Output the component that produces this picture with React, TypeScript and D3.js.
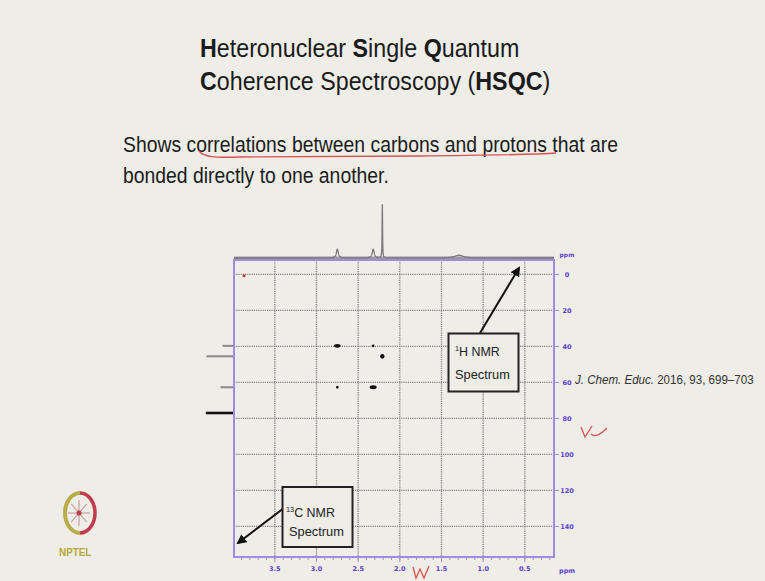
import React from 'react';
import * as d3 from 'd3';

const W = 765;
const H = 581;

// Axis ticks (ppm)
const protonTicks = [3.5, 3.0, 2.5, 2.0, 1.5, 1.0, 0.5];
const carbonTicks = [0, 20, 40, 60, 80, 100, 120, 140];

// HSQC cross peaks: 1H shift, 13C shift, spreads in each dimension
const crossH = [2.75, 2.32, 2.21, 2.75, 2.32];
const crossC = [39.7, 39.7, 45.5, 62.7, 62.7];
const crossSpreadH = [0.04, 0.015, 0.026, 0.015, 0.042];
const crossSpreadC = [1.0, 0.8, 1.3, 0.8, 1.05];

// 1H projection (top trace)
const h1Shift = [2.75, 2.32, 2.21, 1.29];
const h1Height = [0.16, 0.16, 1.0, 0.05];
const h1Width = [0.014, 0.014, 0.003, 0.06];

// 13C projection (left trace)
const c13Shift = [39.7, 45.5, 62.7, 77.0];
const c13Height = [0.38, 0.92, 0.45, 0.94];
const solventShift = 77.0;

// Stray marker near the origin
const markerH = [3.87];
const markerC = [0.8];

const PURPLE = '#a08ae2';
const TICK_TEXT = '#5b3fd2';
const BG = '#eeede8';
const sans = '"Liberation Sans", Arial, sans-serif';

// Text squeezed horizontally by a scale transform
function SlideText({ x, y, sx, size, children, fill = '#1b1b1b', weight = 'normal' }: any) {
  return (
    <text
      transform={`translate(${x},${y}) scale(${sx},1)`}
      fontFamily={sans}
      fontSize={size}
      fontWeight={weight}
      fill={fill}
    >
      {children}
    </text>
  );
}

export default function App() {
  const left = 234, right = 554, top = 260, bottom = 557;
  const x = d3.scaleLinear().domain([3.99, 0.15]).range([left, right]);
  const y = d3.scaleLinear().domain([-8, 157]).range([top, bottom]);

  // top trace intensity -> pixel
  const hInt = d3.scaleLinear().domain([0, 1]).range([258, 203]);
  // left trace intensity -> pixel
  const cInt = d3.scaleLinear().domain([0, 1]).range([left, 204]);

  const samples = d3.range(3.99, 0.15, -0.0015);
  const traceLine = d3
    .line<number>()
    .x((p) => x(p))
    .y((p) => {
      let s = 0;
      h1Shift.forEach((c, i) => {
        const d = (p - c) / h1Width[i];
        s += h1Height[i] / (1 + d * d);
      });
      return hInt(s);
    });

  const minorTicks = d3.range(3.9, 0.15, -0.1);
  const tickFont = '"DejaVu Sans", sans-serif';

  return (
    <svg
      width={W}
      height={H}
      viewBox={`0 0 ${W} ${H}`}
      style={{ position: 'absolute', left: 0, top: 0, background: BG }}
    >
      <defs>
        <marker id="arrowHead" viewBox="0 0 10 10" refX="8" refY="5" markerWidth="5" markerHeight="5" orient="auto-start-reverse">
          <path d="M0,0 L10,5 L0,10 z" fill="#111" />
        </marker>
      </defs>
      <rect x={0} y={0} width={W} height={H} fill={BG} />

      {/* Title */}
      <SlideText x={200} y={57} sx={0.895} size={26}>
        <tspan fontWeight="bold">H</tspan>eteronuclear <tspan fontWeight="bold">S</tspan>ingle <tspan fontWeight="bold">Q</tspan>uantum
      </SlideText>
      <SlideText x={200} y={90} sx={0.895} size={26}>
        <tspan fontWeight="bold">C</tspan>oherence Spectroscopy (<tspan fontWeight="bold">HSQC</tspan>)
      </SlideText>

      {/* Statement */}
      <SlideText x={123} y={152} sx={0.88} size={22}>
        Shows correlations between carbons and protons that are
      </SlideText>
      <SlideText x={123} y={183} sx={0.88} size={22}>
        bonded directly to one another.
      </SlideText>
      <path d="M199,151 C204,157 214,158 240,157 L420,156 C480,155 530,155 556,153" fill="none" stroke="#d9534f" strokeWidth={1.4} />

      {/* 1H projection */}
      <line x1={left} x2={right} y1={258} y2={258} stroke="#9a9a9a" strokeWidth={3} />
      <path d={traceLine(samples) || ''} fill="none" stroke="#7a7a7a" strokeWidth={1.3} />

      {/* 13C projection */}
      {c13Shift.map((c, i) => (
        <line
          key={`c13-${i}`}
          x1={cInt(c13Height[i])}
          x2={left}
          y1={y(c)}
          y2={y(c)}
          stroke={c === solventShift ? '#111' : '#8a8a8a'}
          strokeWidth={c === solventShift ? 2.6 : 2}
        />
      ))}

      {/* Grid */}
      {carbonTicks.map((t) => (
        <line key={`gy-${t}`} x1={left} x2={right} y1={y(t)} y2={y(t)} stroke="#808080" strokeWidth={1.3} strokeDasharray="1.2,1" />
      ))}
      {protonTicks.map((t) => (
        <line key={`gx-${t}`} x1={x(t)} x2={x(t)} y1={top} y2={bottom} stroke="#808080" strokeWidth={1.3} strokeDasharray="1.2,1" />
      ))}

      {/* Frame */}
      <rect x={left} y={top} width={right - left} height={bottom - top} fill="none" stroke={PURPLE} strokeWidth={2} />

      {/* Bottom axis ticks */}
      {minorTicks.map((t, i) => (
        <line key={`mt-${i}`} x1={x(t)} x2={x(t)} y1={bottom} y2={bottom + 3} stroke={PURPLE} strokeWidth={1} />
      ))}
      {protonTicks.map((t) => (
        <g key={`xt-${t}`}>
          <line x1={x(t)} x2={x(t)} y1={bottom} y2={bottom + 5} stroke={PURPLE} strokeWidth={1} />
          <text x={x(t)} y={bottom + 14} textAnchor="middle" fontFamily={tickFont} fontWeight="bold" fontSize={6.5} fill={TICK_TEXT}>
            {t.toFixed(1)}
          </text>
        </g>
      ))}
      <text x={559} y={573} fontFamily={tickFont} fontWeight="bold" fontSize={6.5} fill={TICK_TEXT}>ppm</text>

      {/* Right axis ticks */}
      {carbonTicks.map((t) => (
        <g key={`yt-${t}`}>
          <line x1={right} x2={right + 5} y1={y(t)} y2={y(t)} stroke={PURPLE} strokeWidth={1} />
          <text x={567} y={y(t) + 2.5} textAnchor="middle" fontFamily={tickFont} fontWeight="bold" fontSize={6.5} fill={TICK_TEXT}>
            {t}
          </text>
        </g>
      ))}
      <text x={567} y={257} textAnchor="middle" fontFamily={tickFont} fontWeight="bold" fontSize={6} fill={TICK_TEXT}>ppm</text>

      {/* Cross peaks */}
      {crossH.map((h, i) => (
        <ellipse
          key={`cp-${i}`}
          cx={x(h)}
          cy={y(crossC[i])}
          rx={Math.abs(x(0) - x(crossSpreadH[i]))}
          ry={Math.abs(y(crossSpreadC[i]) - y(0))}
          fill="#111"
        />
      ))}
      {markerH.map((h, i) => (
        <circle key={`mk-${i}`} cx={x(h)} cy={y(markerC[i])} r={1.5} fill="#c0392b" />
      ))}

      {/* 1H label box and arrow */}
      <line x1={480} y1={333} x2={519} y2={268} stroke="#111" strokeWidth={2} markerEnd="url(#arrowHead)" />
      <rect x={448.5} y={333.5} width={70} height={58} fill={BG} stroke="#222" strokeWidth={2} />
      <SlideText x={455} y={356} sx={0.92} size={13.5} fill="#222">
        <tspan fontSize={8} dy={-5}>1</tspan>
        <tspan dy={5}>H NMR</tspan>
      </SlideText>
      <SlideText x={455} y={379} sx={0.95} size={13.5} fill="#222">Spectrum</SlideText>

      {/* 13C label box and arrow */}
      <line x1={284} y1={508} x2={238} y2={543} stroke="#111" strokeWidth={2} markerEnd="url(#arrowHead)" />
      <rect x={282.5} y={487} width={70} height={60} fill={BG} stroke="#222" strokeWidth={2} />
      <SlideText x={286} y={517} sx={0.92} size={13.5} fill="#222">
        <tspan fontSize={8} dy={-5}>13</tspan>
        <tspan dy={5}>C NMR</tspan>
      </SlideText>
      <SlideText x={289} y={536} sx={0.95} size={13.5} fill="#222">Spectrum</SlideText>

      {/* Citation */}
      <SlideText x={575} y={384} sx={0.925} size={12.5} fill="#333">
        <tspan fontStyle="italic">J. Chem. Educ.</tspan> 2016, 93, 699–703
      </SlideText>

      {/* Hand-written ticks */}
      <path d="M581,427 L585,437 L592,426 M591,434 C594,437 600,435 607,428" fill="none" stroke="#d9534f" strokeWidth={1.3} />
      <path d="M413,567 L416,578 L420,569 L424,578 L429,566" fill="none" stroke="#d9534f" strokeWidth={1.3} />

      {/* Logo */}
      <g>
        <path d="M80,493 A15,20 0 0,0 80,533" fill="none" stroke="#b8ad4a" strokeWidth={4} />
        <path d="M80,493 A15,20 0 0,1 80,533" fill="none" stroke="#c23b4a" strokeWidth={3.5} />
        {d3.range(8).map((k) => {
          const a = (k * Math.PI) / 4;
          return (
            <line key={`sp-${k}`} x1={79} y1={513} x2={79 + 11 * Math.cos(a)} y2={513 + 13 * Math.sin(a)} stroke="#c8a8a8" strokeWidth={1.3} />
          );
        })}
        <circle cx={79} cy={513} r={2.5} fill="#c23b4a" />
        <SlideText x={59} y={556} sx={0.9} size={11} fill="#b8a73c" weight="bold">NPTEL</SlideText>
      </g>
    </svg>
  );
}
